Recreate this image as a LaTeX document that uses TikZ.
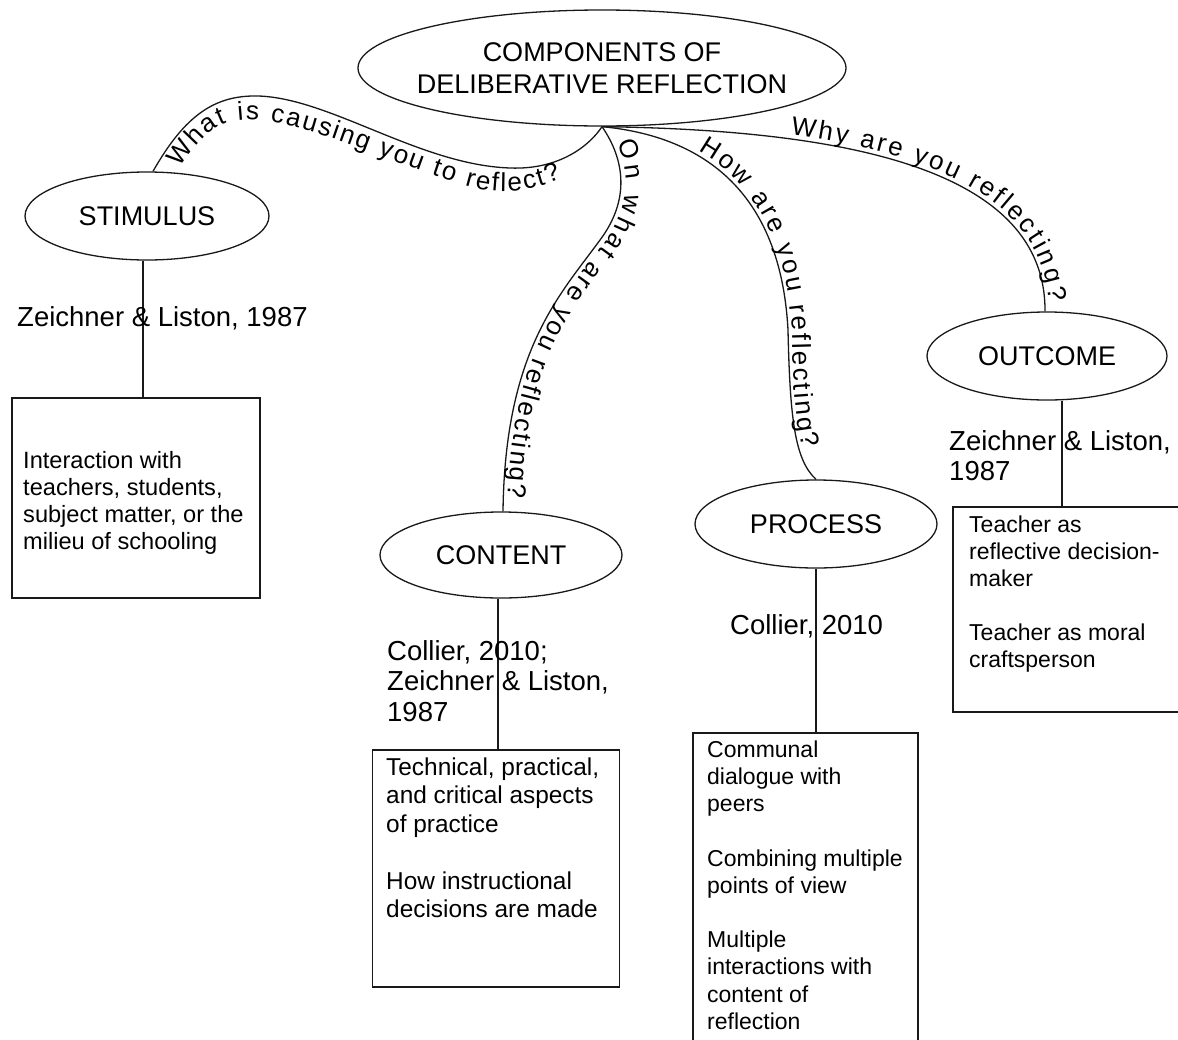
\documentclass[tikz,border=0pt]{standalone}
\usepackage{fontspec}
\setmainfont{Liberation Sans}
\usetikzlibrary{shapes.geometric,decorations.text}

\tikzset{
  conn/.style={line width=1.3pt, draw=black!90},
  topic/.style={ellipse, draw=black!90, line width=1.3pt, inner sep=0pt,
    align=center, font=\fontsize{27}{32}\selectfont},
  infobox/.style={rectangle, draw=black!90, line width=1.3pt, inner sep=0pt},
  boxtext/.style={anchor=north west, inner sep=0pt, align=left,
    font=\fontsize{23}{27}\selectfont},
  cite/.style={anchor=north west, inner sep=0pt, align=left,
    font=\fontsize{27.5}{30.5}\selectfont},
  % question set along a path: text, indent, raise, extra space per letter
  ask/.style n args={4}{decoration={text along path,
    text={|\fontsize{26}{30}\selectfont\kern#4|#1}, text align={left, left indent=#2},
    raise=#3}},
}

\begin{document}
\begin{tikzpicture}[x=1pt,y=-1pt]
\clip (0,0) rectangle (1178,1039);
\fill[white] (0,0) rectangle (1178,1039);

% ellipses
\node[topic, minimum width=488pt, minimum height=116pt,
  label={[align=center, font=\fontsize{27}{32}\selectfont]center:COMPONENTS OF\\DELIBERATIVE REFLECTION}]
  (top) at (602,68) {};
\node[topic, minimum width=244pt, minimum height=88pt] (stim) at (147,216) {STIMULUS};
\node[topic, minimum width=242pt, minimum height=86pt] (cont) at (501,555) {CONTENT};
\node[topic, minimum width=242pt, minimum height=88pt] (proc) at (816,524) {PROCESS};
\node[topic, minimum width=240pt, minimum height=88pt] (outc) at (1047,356) {OUTCOME};

% description boxes
\node[infobox, minimum width=248pt, minimum height=200pt] (sbox) at (136,498) {};
\node[infobox, minimum width=247pt, minimum height=237pt] (cbox) at (496,868.5) {};
\node[infobox, minimum width=225pt, minimum height=327pt] (pbox) at (805.5,896.5) {};
\node[infobox, minimum width=237pt, minimum height=205pt] (obox) at (1071.5,609.5) {};

% curved connectors with their questions
\draw[conn]
  ([xshift=6pt]stim.north) .. controls (185,115) and (215,95) .. (258,96)
  .. controls (330,98) and (420,165) .. (510,168)
  .. controls (560,170) and (590,145) .. (top.south);
% the first question runs just under its connector
\path[decorate, ask={What is causing you to reflect?}{0pt}{0pt}{2pt}]
  (178,169) .. controls (195,145) and (210,124) .. (240,120)
  .. controls (300,115) and (400,170) .. (480,189)
  .. controls (520,196) and (555,186) .. (595,160);
\draw[conn, postaction={decorate, ask={On what are you reflecting?}{18pt}{5pt}{2.5pt}}]
  (top.south) .. controls (625,160) and (630,200) .. (600,240)
  .. controls (560,295) and (505,350) .. ([xshift=2pt]cont.north);
\draw[conn, postaction={decorate, ask={How are you reflecting?}{96pt}{4pt}{2.5pt}}]
  (top.south) .. controls (690,135) and (780,180) .. (788,330)
  .. controls (790,420) and (795,460) .. (proc.north);
\draw[conn, postaction={decorate, ask={Why are you reflecting?}{186pt}{4pt}{2.5pt}}]
  (top.south) .. controls (850,130) and (1046,170) .. ([xshift=-2pt]outc.north);

% straight connectors to the boxes
\draw[conn] ([xshift=-4pt]stim.south) -- ([xshift=-4pt]stim.south |- sbox.north);
\draw[conn] ([xshift=-3pt]cont.south) -- ([xshift=-3pt]cont.south |- cbox.north);
\draw[conn] (proc.south) -- (proc.south |- pbox.north);
\draw[conn] ([xshift=15pt]outc.south) -- ([xshift=15pt]outc.south |- obox.north);

% citations
\node[cite] (cs) at (17,306.2) {Zeichner \& Liston, 1987};
\node[cite] (cc) at (387,640.1) {Collier, 2010;\\Zeichner \& Liston,\\1987};
\node[cite] (cp) at (730,614.1) {Collier, 2010};
\node[cite] (co) at (949,430.2) {Zeichner \& Liston,\\1987};

% box contents
\node[boxtext, font=\fontsize{23.6}{27}\selectfont] (ts) at (23,451)
  {Interaction with\\teachers, students,\\subject matter, or the\\milieu of schooling};
\node[boxtext, font=\fontsize{24.4}{28.5}\selectfont] (tc) at (386,757.4)
  {Technical, practical,\\and critical aspects\\of practice\\[28.5pt]How instructional\\decisions are made};
\node[boxtext, font=\fontsize{23}{27.2}\selectfont] (tp) at (707,740.4)
  {Communal\\dialogue with\\peers\\[27.2pt]Combining multiple\\points of view\\[27.2pt]Multiple\\interactions with\\content of\\reflection};
\node[boxtext] (to) at (969,515.4)
  {Teacher as\\reflective decision-\\maker\\[27pt]Teacher as moral\\craftsperson};
\end{tikzpicture}
\end{document}
